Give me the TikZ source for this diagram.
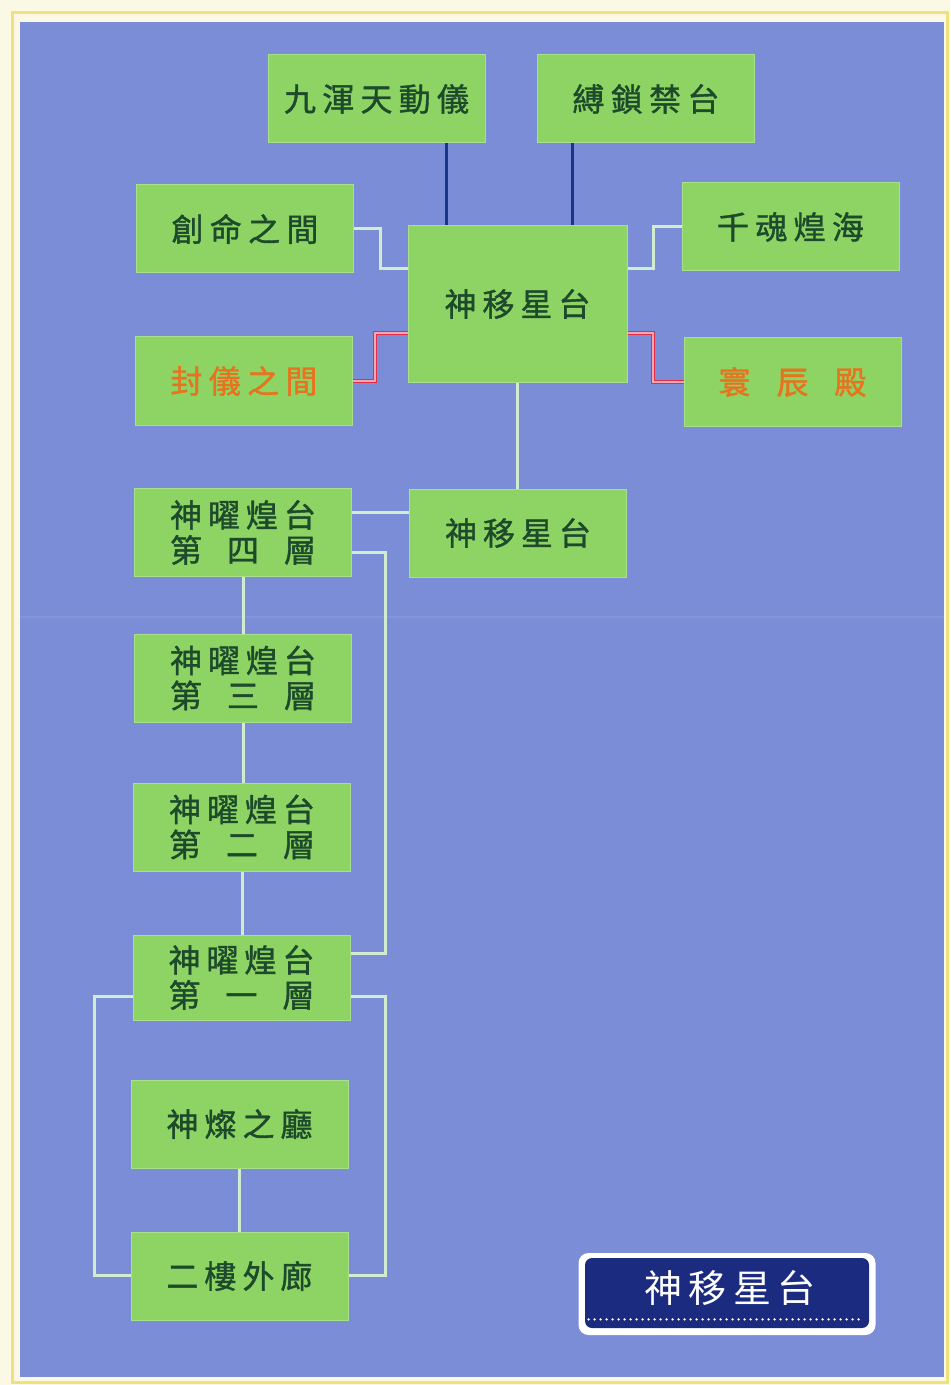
\documentclass[tikz,border=0pt]{standalone}
\usepackage{fontspec}
\setmainfont{Noto Sans CJK TC}
\newfontfamily\boxfont{Noto Sans CJK TC}[FakeBold=1.2]
\definecolor{cream}{HTML}{FBF8E6}
\definecolor{frameyellow}{HTML}{EFE27A}
\definecolor{bgblue}{HTML}{7B8DD6}
\definecolor{boxgreen}{HTML}{8DD465}
\definecolor{boxedge}{HTML}{A8E08C}
\definecolor{txtgreen}{HTML}{1E4A2C}
\definecolor{txtorange}{HTML}{E8731E}
\definecolor{paleline}{HTML}{D2ECD0}
\definecolor{navyline}{HTML}{1A3488}
\definecolor{redline}{HTML}{E03048}
\definecolor{pinkline}{HTML}{F4A6B4}
\definecolor{legendnavy}{HTML}{1B2C80}
\newcommand\spreadtext[2]{\makebox[#1][s]{#2}}
\begin{document}
\begin{tikzpicture}[x=0.5pt,y=-0.5pt,
  box/.style={fill=boxgreen, draw=boxedge, line width=0.5pt, minimum width=108.5pt,
    minimum height=44pt, inner sep=0pt, text=txtgreen,
    font=\boxfont\fontsize{16}{17.5}\selectfont, align=center},
  pale/.style={draw=paleline, line width=1.5pt},
  navy/.style={draw=navyline, line width=1.5pt},
  red/.style={draw=redline, double=pinkline, line width=0.6pt, double distance=0.7pt},
  dotline/.style={draw=white, line width=1.3pt, line cap=round, dash pattern=on 0pt off 3pt}]
\fill[cream] (0,0) rectangle (950,1385);
\useasboundingbox (0,0) rectangle (950,1385);
\draw[frameyellow, line width=1.5pt] (12,13) rectangle (947,1382);
\fill[bgblue] (20,22) rectangle (944,1377);
\draw[white, opacity=0.07, line width=1pt] (20,617) -- (944,617);

% nodes
\node[box] (jiu) at (376.5,99) {\spreadtext{92.5pt}{九 渾 天 動 儀}};
\node[box] (fu) at (646,99) {\spreadtext{73.5pt}{縛 鎖 禁 台}};
\node[box] (chuang) at (245,229) {\spreadtext{73.5pt}{創 命 之 間}};
\node[box] (qian) at (790.5,227) {\spreadtext{73.5pt}{千 魂 煌 海}};
\node[box, minimum width=109.5pt, minimum height=78pt] (center) at (517.5,304) {\spreadtext{73pt}{神 移 星 台}};
\node[box, text=txtorange] (feng) at (244,381) {\spreadtext{73.5pt}{封 儀 之 間}};
\node[box, text=txtorange] (huan) at (792.5,382) {\spreadtext{74pt}{寰 辰 殿}};
\node[box] (L4) at (243,532.5) {\spreadtext{73pt}{神 曜 煌 台}\\\spreadtext{73pt}{第 四 層}};
\node[box] (sx) at (518,533) {\spreadtext{73pt}{神 移 星 台}};
\node[box] (L3) at (243,678) {\spreadtext{73pt}{神 曜 煌 台}\\\spreadtext{73pt}{第 三 層}};
\node[box] (L2) at (242,827) {\spreadtext{73pt}{神 曜 煌 台}\\\spreadtext{73pt}{第 二 層}};
\node[box, minimum height=42.5pt] (L1) at (241.5,977.5) {\spreadtext{73pt}{神 曜 煌 台}\\\spreadtext{73pt}{第 一 層}};
\node[box] (can) at (239.5,1124) {\spreadtext{73pt}{神 燦 之 廳}};
\node[box] (erlou) at (239.5,1276) {\spreadtext{73pt}{二 樓 外 廊}};

% helper coordinates
\coordinate (bx1) at (446,0);
\coordinate (bx2) at (572,0);
\coordinate (xL) at (380,0);
\coordinate (xR) at (653,0);
\coordinate (xRL) at (375,0);
\coordinate (yA) at (0,269);
\coordinate (yR) at (0,333);
\coordinate (y512) at (0,512);
\coordinate (y552) at (0,552);
\coordinate (y953) at (0,953);
\coordinate (y996) at (0,996);
\coordinate (y1275) at (0,1275);
\coordinate (x385) at (385,0);
\coordinate (x94) at (94,0);

% connectors
\draw[navy] (jiu.south -| bx1) -- (center.north -| bx1);
\draw[navy] (fu.south -| bx2) -- (center.north -| bx2);
\draw[pale] (chuang.east) -| (xL |- yA) -- (center.west |- yA);
\draw[pale] (qian.west) -| (xR |- yA) -- (center.east |- yA);
\draw[red] (center.west |- yR) -| (xRL |- feng.east) -- (feng.east);
\draw[red] (center.east |- yR) -| (xR |- huan.west) -- (huan.west);
\draw[pale] (center.south) -- (center.south |- sx.north);
\draw[pale] (L4.east |- y512) -- (sx.west |- y512);
\draw[pale] (L4.east |- y552) -| (x385 |- y953) -- (L1.east |- y953);
\draw[pale] (L4.south) -- (L4.south |- L3.north);
\draw[pale] (L3.south) -- (L3.south |- L2.north);
\draw[pale] (L2.south) -- (L2.south |- L1.north);
\draw[pale] (L1.west |- y996) -| (x94 |- y1275) -- (erlou.west |- y1275);
\draw[pale] (L1.east |- y996) -| (x385 |- y1275) -- (erlou.east |- y1275);
\draw[pale] (can.south) -- (can.south |- erlou.north);

% legend
\node[fill=white, rounded corners=5pt, minimum width=148.5pt, minimum height=41pt, inner sep=0pt] (legend) at (727,1294) {};
\node[fill=legendnavy, rounded corners=3.5pt, minimum width=142pt, minimum height=35pt, inner sep=0pt] (legendin) at (727,1293) {};
\node[text=white, font=\fontsize{19}{20}\selectfont, inner sep=0pt] (legendtxt) at (730,1288) {\spreadtext{86pt}{神 移 星 台}};
\draw[dotline] ([shift={(4,-9)}]legendin.south west) -- ([shift={(-6,-9)}]legendin.south east);
\end{tikzpicture}
\end{document}
